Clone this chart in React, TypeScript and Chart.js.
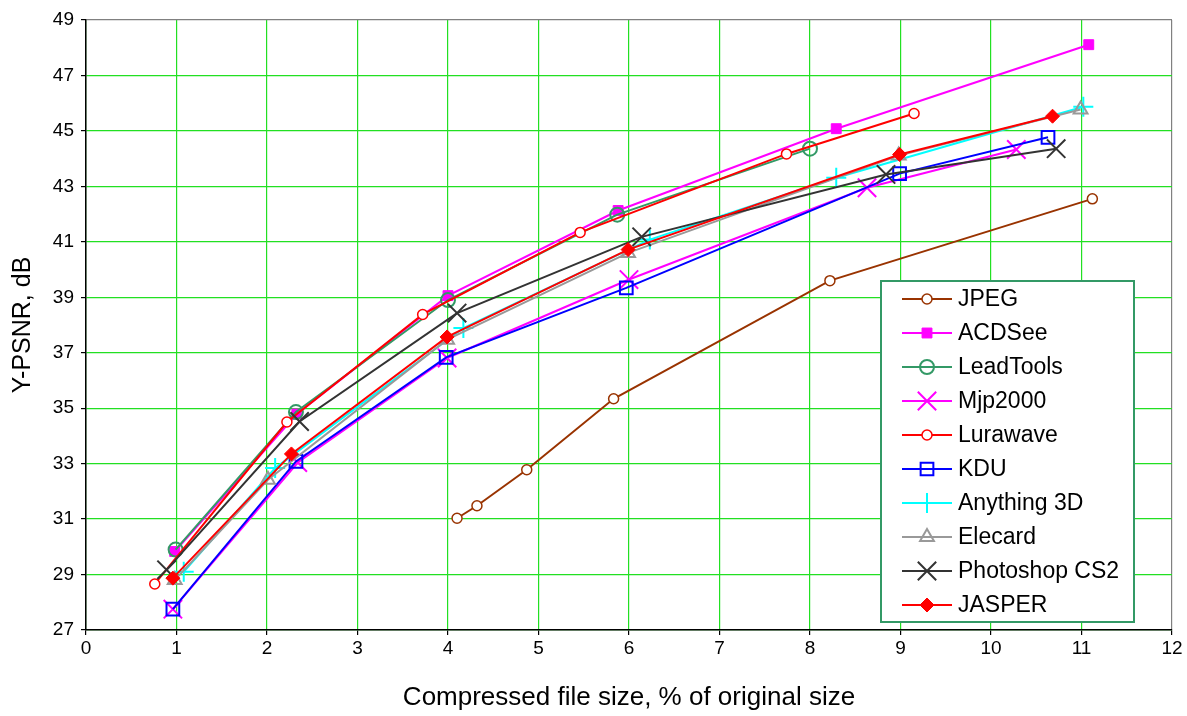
import React, { useEffect, useRef } from 'react';
import { Chart, registerables } from 'chart.js';
import { drawPoint } from 'chart.js/helpers';

Chart.register(...registerables);

// ---- data ----
const seriesNames = ['JPEG', 'ACDSee', 'LeadTools', 'Mjp2000', 'Lurawave', 'KDU', 'Anything 3D', 'Elecard', 'Photoshop CS2', 'JASPER'];

const jpegX = [4.10, 4.32, 4.87, 5.83, 8.22, 11.12];
const jpegY = [31.03, 31.48, 32.78, 35.34, 39.60, 42.55];

const acdseeX = [0.98, 2.33, 4.00, 5.88, 8.29, 11.08];
const acdseeY = [29.83, 34.79, 39.06, 42.13, 45.08, 48.11];

const leadtoolsX = [0.99, 2.32, 4.00, 5.87, 8.00];
const leadtoolsY = [29.90, 34.86, 38.90, 41.98, 44.36];

const mjp2000X = [0.96, 2.34, 3.99, 6.00, 8.63, 10.28];
const mjp2000Y = [27.75, 33.04, 36.81, 39.64, 42.95, 44.33];

const lurawaveX = [0.76, 2.22, 3.72, 5.46, 7.74, 9.15];
const lurawaveY = [28.66, 34.50, 38.38, 41.34, 44.17, 45.63];

const kduX = [0.96, 2.32, 3.98, 5.97, 8.99, 10.63];
const kduY = [27.75, 33.08, 36.83, 39.34, 43.46, 44.77];

const anything3dX = [1.08, 2.09, 4.17, 6.23, 8.29, 11.02];
const anything3dY = [29.10, 32.84, 37.89, 41.08, 43.31, 45.87];

const elecardX = [0.98, 2.01, 3.99, 5.99, 8.98, 10.99];
const elecardY = [28.80, 32.42, 37.47, 40.60, 44.11, 45.77];

const photoshopX = [0.89, 2.36, 4.10, 6.14, 8.84, 10.72];
const photoshopY = [29.17, 34.52, 38.43, 41.18, 43.43, 44.36];

const jasperX = [0.96, 2.27, 3.99, 5.99, 8.99, 10.68];
const jasperY = [28.87, 33.35, 37.57, 40.72, 44.15, 45.53];

const xTicks = [0, 1, 2, 3, 4, 5, 6, 7, 8, 9, 10, 11, 12];
const yTicks = [27, 29, 31, 33, 35, 37, 39, 41, 43, 45, 47, 49];

const xTitle = 'Compressed file size, % of original size';
const yTitle = 'Y-PSNR, dB';

const FONT = '"Liberation Sans", Arial, sans-serif';

function pts(xs: number[], ys: number[]) {
  return xs.map((x, i) => ({ x, y: ys[i] }));
}

type Style = {
  color: string;
  pointStyle: string;
  radius: number;
  fill: string;
  pbw: number;
};

const styles: Style[] = [
  { color: '#993300', pointStyle: 'circle', radius: 5, fill: '#ffffff', pbw: 1.5 },
  { color: '#ff00ff', pointStyle: 'rect', radius: 7, fill: '#ff00ff', pbw: 1 },
  { color: '#339966', pointStyle: 'circle', radius: 7, fill: 'rgba(0,0,0,0)', pbw: 2 },
  { color: '#ff00ff', pointStyle: 'crossRot', radius: 13, fill: 'rgba(0,0,0,0)', pbw: 2 },
  { color: '#ff0000', pointStyle: 'circle', radius: 5, fill: '#ffffff', pbw: 1.5 },
  { color: '#0000ff', pointStyle: 'rect', radius: 9, fill: 'rgba(0,0,0,0)', pbw: 2 },
  { color: '#00ffff', pointStyle: 'cross', radius: 10, fill: 'rgba(0,0,0,0)', pbw: 2 },
  { color: '#999999', pointStyle: 'triangle', radius: 8, fill: 'rgba(0,0,0,0)', pbw: 2 },
  { color: '#333333', pointStyle: 'crossRot', radius: 13, fill: 'rgba(0,0,0,0)', pbw: 2 },
  { color: '#ff0000', pointStyle: 'rectRot', radius: 7, fill: '#ff0000', pbw: 1 },
];

const seriesData = [
  pts(jpegX, jpegY),
  pts(acdseeX, acdseeY),
  pts(leadtoolsX, leadtoolsY),
  pts(mjp2000X, mjp2000Y),
  pts(lurawaveX, lurawaveY),
  pts(kduX, kduY),
  pts(anything3dX, anything3dY),
  pts(elecardX, elecardY),
  pts(photoshopX, photoshopY),
  pts(jasperX, jasperY),
];

const boxLegend = {
  id: 'boxLegend',
  afterDraw(chart: any) {
    const ctx = chart.ctx as CanvasRenderingContext2D;
    ctx.save();
    const bx = 881, by = 281, bw = 253, bh = 341;
    ctx.fillStyle = '#ffffff';
    ctx.fillRect(bx, by, bw, bh);
    ctx.strokeStyle = '#339966';
    ctx.lineWidth = 2;
    ctx.strokeRect(bx, by, bw, bh);
    chart.data.datasets.forEach((ds: any, i: number) => {
      const st = styles[i];
      const y = 299 + i * 34;
      ctx.strokeStyle = st.color;
      ctx.lineWidth = 2;
      ctx.beginPath();
      ctx.moveTo(902, y);
      ctx.lineTo(952, y);
      ctx.stroke();
      ctx.strokeStyle = st.color;
      ctx.fillStyle = st.fill;
      ctx.lineWidth = st.pbw;
      drawPoint(ctx, { pointStyle: st.pointStyle as any, rotation: 0, radius: st.radius, borderWidth: st.pbw }, 927, y);
      ctx.fillStyle = '#000000';
      ctx.font = `23px ${FONT}`;
      ctx.textAlign = 'left';
      ctx.textBaseline = 'middle';
      ctx.fillText(ds.label, 958, y + 1);
    });
    ctx.restore();
  },
};

export default function App() {
  const ref = useRef<HTMLCanvasElement | null>(null);

  useEffect(() => {
    if (!ref.current) return;
    document.body.style.margin = '0';
    const n = seriesNames.length;
    const datasets = seriesNames.map((name, i) => ({
      label: name,
      data: seriesData[i],
      showLine: true,
      borderColor: styles[i].color,
      backgroundColor: styles[i].fill,
      borderWidth: 2,
      pointStyle: styles[i].pointStyle,
      pointRadius: styles[i].radius,
      pointHoverRadius: styles[i].radius,
      pointBorderColor: styles[i].color,
      pointBackgroundColor: styles[i].fill,
      pointBorderWidth: styles[i].pbw,
      tension: 0,
      order: n - i,
    }));

    const chart = new Chart(ref.current, {
      type: 'scatter',
      data: { datasets },
      options: {
        animation: false,
        responsive: false,
        layout: { padding: { top: 20, right: 15, left: 0, bottom: 0 } },
        plugins: {
          legend: { display: false },
          tooltip: { enabled: false },
        },
        scales: {
          x: {
            type: 'linear',
            min: 0,
            max: 12,
            afterFit: (s: any) => { s.height = 86; },
            afterBuildTicks: (s: any) => { s.ticks = xTicks.map((v) => ({ value: v })); },
            ticks: {
              font: { family: FONT, size: 19 },
              color: '#000',
              padding: 2,
              maxRotation: 0,
              autoSkip: false,
            },
            grid: {
              color: (c: any) => (c.tick && c.tick.value === 12 ? '#808080' : '#22e022'),
              tickColor: '#000',
              tickLength: 5,
              lineWidth: 1.2,
            },
            border: { color: '#000', width: 1.5 },
            title: {
              display: true,
              text: xTitle,
              font: { family: FONT, size: 26 },
              color: '#000',
              padding: { top: 3, bottom: 3 },
            },
          },
          y: {
            type: 'linear',
            min: 27,
            max: 49,
            afterFit: (s: any) => { s.width = 86; },
            afterBuildTicks: (s: any) => { s.ticks = yTicks.map((v) => ({ value: v })); },
            ticks: {
              font: { family: FONT, size: 19 },
              color: '#000',
              padding: 7,
              autoSkip: false,
            },
            grid: {
              color: (c: any) => (c.tick && c.tick.value === 49 ? '#808080' : '#22e022'),
              tickColor: '#000',
              tickLength: 5,
              lineWidth: 1.2,
            },
            border: { color: '#000', width: 1.5 },
            title: {
              display: true,
              text: yTitle,
              font: { family: FONT, size: 25 },
              color: '#000',
              padding: { top: 8, bottom: 0 },
            },
          },
        },
      },
      plugins: [boxLegend],
    } as any);

    return () => chart.destroy();
  }, []);

  return (
    <div style={{ position: 'fixed', left: 0, top: 0, width: 1187, height: 716, background: '#fff' }}>
      <canvas ref={ref} width={1187} height={716} />
    </div>
  );
}
